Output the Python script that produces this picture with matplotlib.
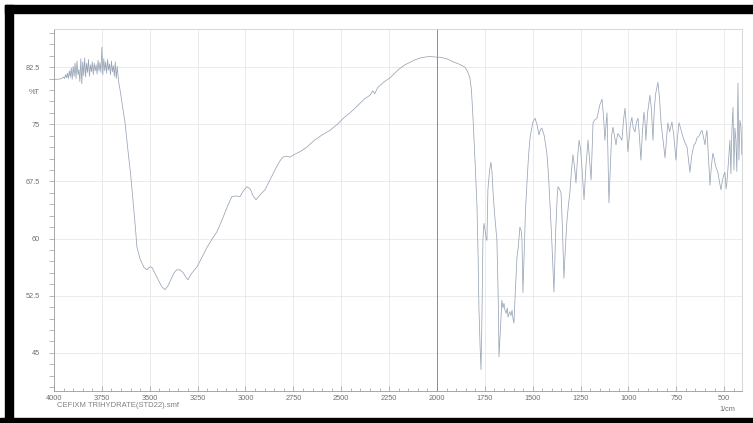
#!/usr/bin/env python3
# FTIR spectrum, cefixime trihydrate (%T vs wavenumber)

import matplotlib
matplotlib.use("Agg")
import matplotlib.pyplot as plt
from matplotlib.patches import Rectangle
from matplotlib.ticker import MultipleLocator
import matplotlib.transforms as mtransforms

# O-H / N-H region, noisy plateau then broad band
oh_wn = [4000, 3980, 3960, 3950, 3945, 3940, 3935, 3930, 3925, 3920, 3915, 3910,
         3905, 3900, 3895, 3890, 3885, 3880, 3875, 3870, 3865, 3860, 3855, 3850,
         3845, 3840, 3835, 3830, 3825, 3820, 3815, 3810, 3805, 3800, 3795, 3790,
         3785, 3780, 3775, 3770, 3765, 3760, 3755, 3750, 3745, 3740, 3735, 3730,
         3725, 3720, 3715, 3710, 3705, 3700, 3695, 3690, 3685, 3680, 3675, 3670,
         3662, 3655, 3640, 3629, 3614, 3600, 3588, 3575, 3567, 3550, 3530, 3514,
         3500, 3488, 3470, 3450, 3435, 3420, 3405, 3390, 3375, 3360, 3342, 3325,
         3310, 3300, 3285, 3270, 3253, 3230, 3200, 3170, 3149, 3120, 3090, 3071,
         3050, 3029, 3010, 2992, 2975, 2960, 2945, 2935, 2918, 2898, 2870, 2840,
         2820, 2804, 2785, 2768, 2740, 2715, 2680, 2640, 2600, 2559, 2520, 2480,
         2454, 2420, 2380, 2350, 2335, 2325, 2310, 2280, 2245, 2200, 2167, 2120,
         2089, 2040, 2000]
oh_t = [80.9, 80.9, 81.0, 81.2, 81.0, 81.5, 81.1, 81.7, 81.0, 82.0, 81.2, 82.4,
        80.9, 82.6, 81.3, 83.0, 81.0, 83.3, 81.5, 82.2, 80.6, 83.6, 80.3, 83.2,
        81.4, 83.7, 81.2, 83.0, 81.8, 83.5, 81.3, 82.8, 81.9, 83.2, 81.5, 83.0,
        82.0, 82.8, 81.6, 83.4, 82.0, 83.1, 81.8, 85.1, 81.5, 83.6, 82.0, 83.2,
        81.7, 83.5, 82.1, 82.9, 81.5, 83.3, 81.9, 82.7, 81.3, 83.2, 81.0, 82.6,
        80.5, 79.5, 77.0, 75.2, 71.6, 68.5, 65.1, 61.5, 58.9, 57.3, 56.2, 55.9,
        56.3, 56.2, 55.3, 54.3, 53.6, 53.3, 53.8, 54.6, 55.4, 55.9, 55.9, 55.5,
        54.9, 54.6, 55.3, 55.8, 56.3, 57.4, 58.9, 60.1, 60.9, 62.6, 64.5, 65.5,
        65.6, 65.5, 66.3, 66.8, 66.5, 65.6, 65.1, 65.4, 65.9, 66.4, 67.8, 69.3,
        70.2, 70.7, 70.8, 70.7, 71.1, 71.4, 72.0, 72.9, 73.6, 74.2, 75.0, 76.0,
        76.5, 77.3, 78.3, 78.8, 79.4, 79.0, 79.8, 80.5, 81.1, 82.2, 82.8, 83.4,
        83.7, 83.9, 83.8]

# carbonyl / amide region
co_wn = [1984, 1950, 1916, 1885, 1870, 1854, 1840, 1828, 1820, 1812, 1800, 1791,
         1785, 1781, 1775, 1770, 1765, 1760, 1755, 1748, 1742, 1739, 1734, 1725,
         1718, 1712, 1708, 1700, 1687, 1680, 1676, 1670, 1661, 1655, 1650, 1645,
         1638, 1633, 1629, 1620, 1613, 1608, 1603, 1598, 1590, 1582, 1575, 1567,
         1560, 1556, 1551, 1545, 1538, 1530, 1522, 1514, 1500, 1488, 1478, 1467,
         1460, 1452, 1440, 1426, 1418, 1410, 1400, 1389, 1380, 1372, 1368, 1362,
         1352, 1345, 1337, 1330, 1321, 1313, 1306, 1298, 1290, 1282, 1274, 1266,
         1258, 1250, 1243, 1237, 1232, 1222, 1211, 1195]
co_t = [83.8, 83.6, 83.2, 82.9, 82.7, 82.5, 81.9, 81.1, 79.5, 75.9, 69.5, 64.2,
        57.5, 51.0, 46.0, 42.8, 50.0, 59.8, 62.0, 61.0, 59.8, 59.8, 66.4, 69.0,
        70.0, 68.5, 66.4, 63.5, 59.8, 52.0, 44.5, 47.5, 51.9, 50.9, 51.5, 50.6,
        50.2, 50.9, 49.7, 50.4, 49.9, 50.6, 49.5, 48.9, 53.5, 57.6, 59.0, 61.5,
        61.0, 59.8, 52.9, 58.0, 63.5, 67.3, 70.8, 73.2, 75.2, 75.8, 75.0, 73.6,
        74.3, 74.5, 73.5, 71.2, 68.5, 64.7, 59.5, 53.0, 61.0, 65.5, 66.8, 66.6,
        66.0, 61.5, 54.8, 58.5, 62.4, 64.5, 66.0, 68.8, 71.0, 69.5, 67.3, 70.5,
        72.9, 71.8, 69.4, 67.0, 65.1, 69.5, 72.9, 67.7]

# fingerprint region
fp_wn = [1185, 1175, 1164, 1150, 1138, 1130, 1123, 1117, 1112, 1107, 1102, 1095,
         1088, 1081, 1073, 1065, 1060, 1055, 1045, 1034, 1026, 1018, 1010, 1003,
         995, 990, 982, 975, 966, 958, 950, 943, 935, 927, 919, 914, 909, 900,
         888, 880, 872, 865, 858, 846, 838, 830, 820, 809, 800, 794, 785, 773,
         763, 752, 745, 736, 728, 715, 705, 694, 687, 679, 670, 658, 650, 642,
         630, 622, 616, 608, 600, 595, 590, 583, 574, 567, 559, 552, 545, 533,
         525, 517, 510, 503, 496, 490, 486, 478, 470, 465, 460, 454, 449, 444,
         439, 434, 428, 423, 418, 412, 408]
fp_t = [75.2, 75.6, 75.8, 77.5, 78.3, 76.0, 72.9, 75.0, 76.5, 71.0, 64.7, 69.0,
        73.5, 74.6, 73.5, 72.3, 73.2, 73.8, 73.4, 72.9, 75.5, 77.1, 74.5, 71.4,
        73.5, 75.0, 75.9, 74.5, 74.0, 75.3, 75.8, 73.5, 70.3, 74.0, 76.6, 75.5,
        72.9, 76.5, 78.8, 77.0, 72.9, 77.0, 79.0, 80.5, 78.5, 75.3, 73.0, 70.6,
        73.5, 75.2, 74.0, 75.3, 73.5, 70.3, 73.0, 75.2, 74.5, 73.3, 72.6, 72.0,
        70.5, 68.7, 70.8, 72.3, 72.5, 73.2, 73.5, 74.0, 74.2, 73.3, 72.3, 73.5,
        74.2, 71.0, 67.0, 69.5, 71.2, 70.5, 69.5, 68.7, 67.5, 66.4, 67.5, 68.3,
        68.7, 66.5, 67.3, 70.0, 72.9, 68.5, 74.0, 77.2, 69.0, 74.5, 72.9, 68.8,
        80.4, 70.3, 75.5, 74.6, 71.0]

wavenumber = oh_wn + co_wn + fp_wn
transmittance = oh_t + co_t + fp_t

W, H = 753, 423
fig = plt.figure(figsize=(W / 100, H / 100), dpi=100)
fig.patch.set_facecolor("white")

# axes box in pixels: x 54..742, y 29..391
ax = fig.add_axes([54 / W, 1 - 391 / H, (742 - 54) / W, (391 - 29) / H])

ax.plot(wavenumber, transmittance, color="#98a4b6", lw=0.55)

ax.set_xlim(4000, 407)
ax.set_ylim(40, 87.5)

ax.xaxis.set_major_locator(MultipleLocator(250))
ax.xaxis.set_minor_locator(MultipleLocator(50))
ax.yaxis.set_major_locator(MultipleLocator(7.5))
ax.yaxis.set_minor_locator(MultipleLocator(1.5))
ax.yaxis.set_major_formatter(plt.FuncFormatter(lambda v, p: f"{v:g}"))

ax.grid(True, which="major", color="#e8e8e8", lw=0.6)
ax.axvline(2000, color="#8c8c8c", lw=0.7)

for side in ["top", "right"]:
    ax.spines[side].set_color("#d0d0d0")
    ax.spines[side].set_linewidth(0.6)
for side in ["left", "bottom"]:
    ax.spines[side].set_color("#9a9a9a")
    ax.spines[side].set_linewidth(0.6)

font = "Liberation Sans"
ax.tick_params(axis="y", which="both", direction="out", color="#9a9a9a",
               width=0.5, labelcolor="#707070", labelsize=5.3, pad=6.5)
ax.tick_params(axis="y", which="major", length=3.6)
ax.tick_params(axis="y", which="minor", length=3.6)
ax.tick_params(axis="x", which="both", direction="in", color="#9a9a9a",
               width=0.5, labelcolor="#707070", labelsize=5.3, pad=3)
ax.tick_params(axis="x", which="major", length=3.5)
ax.tick_params(axis="x", which="minor", length=2.5)
for lab in ax.get_xticklabels() + ax.get_yticklabels():
    lab.set_family(font)

trans = mtransforms.blended_transform_factory(ax.transAxes, ax.transData)
ax.text(-14 / 688, 79.2, "%T", transform=trans, ha="right", va="center",
        fontsize=5.3, color="#707070", family=font)

fig.text(57 / W, 1 - 405 / H, "CEFIXM TRIHYDRATE(STD22).smf", ha="left",
         va="center", fontsize=5.5, color="#808080", family=font)
fig.text(727 / W, 1 - 409 / H, "1/cm", ha="center", va="center",
         fontsize=5.3, color="#707070", family=font)

# black scan border
fig.patches.append(Rectangle((5 / W, 1 - 13 / H), 1, 8 / H, transform=fig.transFigure,
                             color="black", zorder=10))
fig.patches.append(Rectangle((5 / W, 0), 8 / W, 1 - 5 / H, transform=fig.transFigure,
                             color="black", zorder=10))
fig.patches.append(Rectangle((0, 0), 1, 5 / H, transform=fig.transFigure,
                             color="black", zorder=10))

fig.savefig("out.png", dpi=100)
plt.close(fig)
